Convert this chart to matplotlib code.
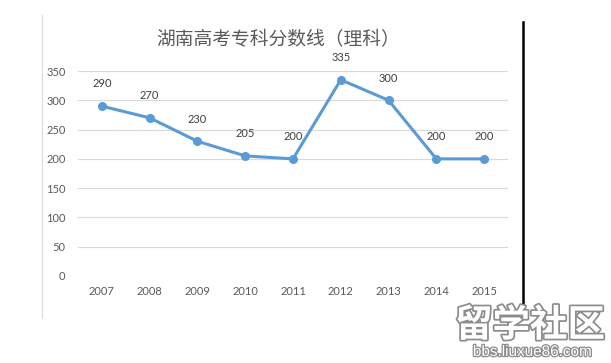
import matplotlib
matplotlib.use("Agg")
import matplotlib.pyplot as plt
import matplotlib.patheffects as pe
from matplotlib.lines import Line2D

years = ["2007", "2008", "2009", "2010", "2011", "2012", "2013", "2014", "2015"]
scores = [290, 270, 230, 205, 200, 335, 300, 200, 200]
yticks = [0, 50, 100, 150, 200, 250, 300, 350]
title = "湖南高考专科分数线（理科）"

W, H = 611, 363
fig = plt.figure(figsize=(W / 100, H / 100), dpi=100)
fig.patch.set_facecolor("white")

ax = fig.add_axes([78 / W, (H - 276) / H, 430 / W, 205 / H])
x = list(range(len(years)))
ax.plot(x, scores, color="#5B9BD5", lw=2.2, marker="o", ms=5.5, zorder=3)
for xi, v in zip(x, scores):
    ax.annotate(str(v), (xi, v), xytext=(0, 12), textcoords="offset points",
                ha="center", va="bottom", fontsize=8, color="#404040",
                family=["Lato", "DejaVu Sans"])

ax.set_xlim(-0.5, len(years) - 0.5)
ax.set_ylim(0, 350)
ax.set_yticks(yticks)
ax.set_yticklabels([str(t) for t in yticks], family=["Lato", "DejaVu Sans"],
                   fontsize=8, color="#595959")
ax.set_xticks(x)
ax.set_xticklabels(years, family=["Lato", "DejaVu Sans"], fontsize=8, color="#595959")
ax.tick_params(length=0, pad=7)
ax.tick_params(axis="y", pad=9)
ax.grid(axis="y", color="#D9D9D9", lw=0.8)
ax.set_axisbelow(True)
for s in ax.spines.values():
    s.set_visible(False)

fig.text(278 / W, 1 - 40 / H, title, ha="center", va="center", fontsize=13.5,
         color="#595959", family=["Noto Sans CJK SC", "DejaVu Sans"])

# frame lines
fig.add_artist(Line2D([41.5 / W, 41.5 / W], [1 - 15 / H, 1 - 318 / H],
                      color="#DADADA", lw=0.8))
fig.add_artist(Line2D([523 / W, 523 / W], [1 - 22 / H, 1 - 305 / H],
                      color="black", lw=1.8))

# watermark
fig.text(530 / W, 1 - 325 / H, "留学社区", ha="center", va="center", fontsize=27,
         color="white", weight="bold", family=["Noto Sans CJK SC", "DejaVu Sans"],
         path_effects=[pe.withStroke(linewidth=2.5, foreground="#8C8C8C")])
fig.text(532 / W, 1 - 352 / H, "bbs.liuxue86.com", ha="center", va="center",
         fontsize=11, color="white", family=["Liberation Sans", "DejaVu Sans"],
         path_effects=[pe.withStroke(linewidth=1.8, foreground="#8C8C8C")])

fig.savefig("out.png", dpi=100, facecolor="white")
